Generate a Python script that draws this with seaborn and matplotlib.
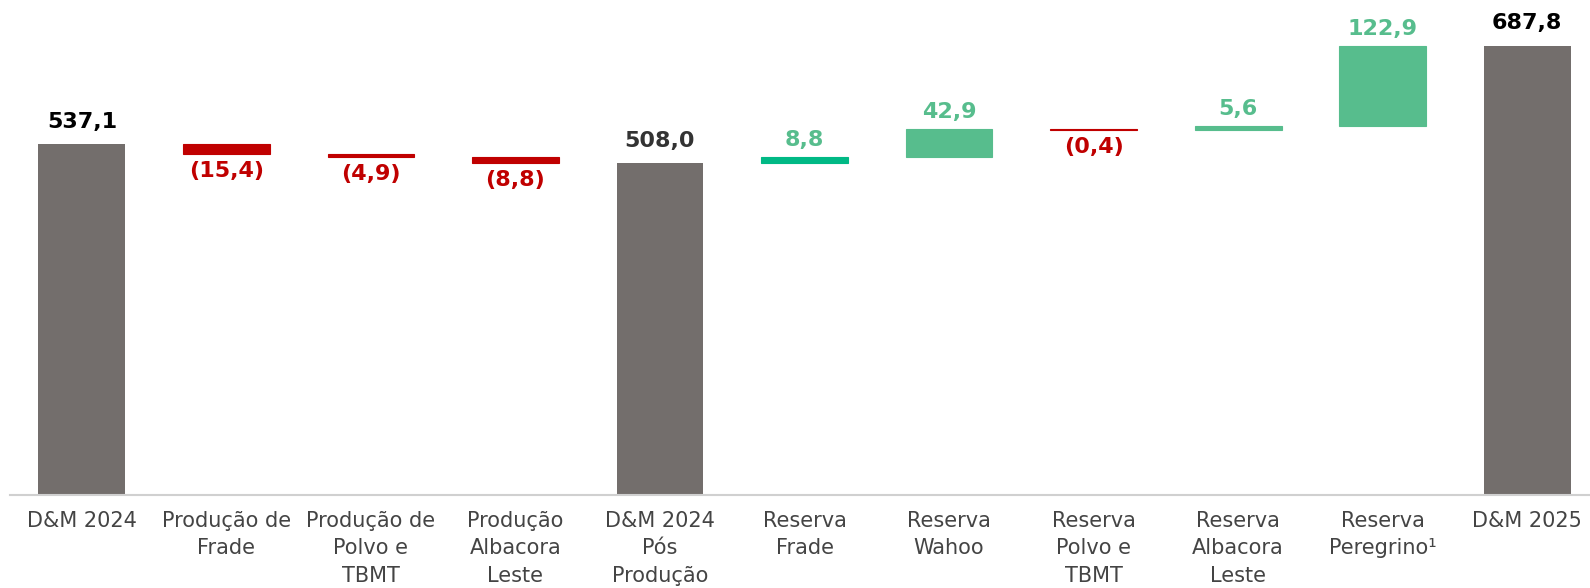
import numpy as np
import pandas as pd
import seaborn as sns
import matplotlib.pyplot as plt

# data (in MMboe)
categories = [
    "D&M 2024",
    "Produção de\nFrade",
    "Produção de\nPolvo e\nTBMT",
    "Produção\nAlbacora\nLeste",
    "D&M 2024\nPós\nProdução",
    "Reserva\nFrade",
    "Reserva\nWahoo",
    "Reserva\nPolvo e\nTBMT",
    "Reserva\nAlbacora\nLeste",
    "Reserva\nPeregrino¹",
    "D&M 2025",
]
values = [537.1, -15.4, -4.9, -8.8, 508.0, 8.8, 42.9, -0.4, 5.6, 122.9, 687.8]
kinds = ["total", "delta", "delta", "delta", "total", "delta", "delta", "delta", "delta", "delta", "total"]
labels = ["537,1", "(15,4)", "(4,9)", "(8,8)", "508,0", "8,8", "42,9", "(0,4)", "5,6", "122,9", "687,8"]

GRAY = "#736e6c"
RED = "#c00000"
GREEN = "#57bd8d"
GREEN_DARK = "#00b985"

# work out bottoms / heights for the waterfall
bottoms = []
heights = []
running = 0.0
for v, k in zip(values, kinds):
    if k == "total":
        running = v
        bottoms.append(0.0)
        heights.append(v)
    else:
        start = running
        running = running + v
        bottoms.append(min(start, running))
        heights.append(abs(v))

df = pd.DataFrame({"cat": categories, "height": heights, "bottom": bottoms,
                   "value": values, "kind": kinds})

sns.set_style("white")
plt.rcParams["font.family"] = ["DejaVu Sans"]

fig = plt.figure(figsize=(15.9, 5.88), dpi=100)
ax = fig.add_axes([0.006, 0.159, 1.0, 0.841])

sns.barplot(data=df, x="cat", y="height", bottom=df["bottom"].to_numpy(),
            width=0.6, color=GRAY, ax=ax)

for i, p in enumerate(ax.patches):
    if kinds[i] == "total":
        c = GRAY
    elif values[i] < 0:
        c = RED
    elif i == 5:
        c = GREEN_DARK
    else:
        c = GREEN
    p.set_facecolor(c)
    p.set_edgecolor(c if kinds[i] == "delta" else "none")
    p.set_linewidth(0.8)

# value labels
for i, (v, k) in enumerate(zip(values, kinds)):
    top = bottoms[i] + heights[i]
    if k == "total":
        col = "#333333" if i == 4 else "black"
        ax.annotate(labels[i], (i, top), xytext=(0, 9), textcoords="offset points",
                    ha="center", va="bottom", fontsize=16, fontweight="bold", color=col)
    elif v < 0:
        ax.annotate(labels[i], (i, bottoms[i]), xytext=(0, -5), textcoords="offset points",
                    ha="center", va="top", fontsize=16, fontweight="bold", color=RED)
    else:
        ax.annotate(labels[i], (i, top), xytext=(0, 5), textcoords="offset points",
                    ha="center", va="bottom", fontsize=16, fontweight="bold", color=GREEN)

ax.set_ylim(0, 758)
ax.set_xlim(-0.5, 10.5)
ax.set_xlabel("")
ax.set_ylabel("")
ax.set_yticks([])
ax.tick_params(axis="x", length=0, pad=12, labelsize=15, labelcolor="#444444")
for lab in ax.get_xticklabels():
    lab.set_linespacing(1.45)

for s in ["top", "right", "left"]:
    ax.spines[s].set_visible(False)
ax.spines["bottom"].set_color("#d0d0d0")
ax.spines["bottom"].set_linewidth(1.5)

fig.savefig("out.png", dpi=100, facecolor="white")
